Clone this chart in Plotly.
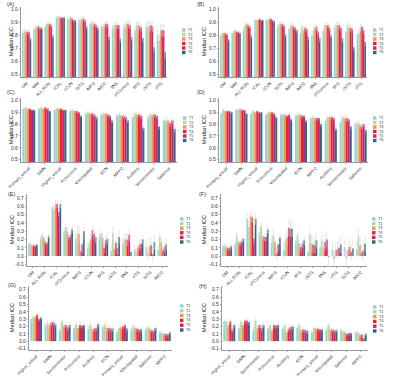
import plotly.graph_objects as go

series = ["T1", "T2", "T3", "T4", "T5", "T6"]
colors = ["#9DCBE3", "#A9DCA2", "#FB8D5F", "#E0282B", "#CE1F7F", "#2E6B78"]

roi_ab = ["GM", "WM", "ALL ROIs", "rCAL", "rCUN", "lSTG", "lMFG", "lMCC", "lINS",
          "rPCuneus", "lIFG", "rSTG", "rITG"]
net_cd = ["Primary_visual", "DMN", "Higher_visual", "Precuneus", "Visuospatial",
          "ECN", "MPFC", "Auditory", "Sensorimotor", "Salience"]
roi_ef = ["GM", "ALL ROIs", "rCAL", "rPCuneus", "lMFG", "rCUN", "lIFG", "rSTG",
          "lINS", "rITG", "lSTG", "lMCC"]
net_gh = ["Higher_visual", "DMN", "Sensorimotor", "Precuneus", "Auditory", "ECN",
          "Primary_visual", "Visuospatial", "Salience", "MPFC"]

# rows = categories, columns = T1..T6
A_vals = [[0.82, 0.84, 0.83, 0.83, 0.83, 0.78], [0.85, 0.86, 0.87, 0.87, 0.86, 0.86],
          [0.87, 0.89, 0.89, 0.89, 0.88, 0.80], [0.94, 0.95, 0.94, 0.94, 0.94, 0.94],
          [0.92, 0.93, 0.94, 0.93, 0.92, 0.92], [0.92, 0.92, 0.93, 0.93, 0.92, 0.87],
          [0.89, 0.90, 0.89, 0.89, 0.88, 0.86], [0.87, 0.87, 0.88, 0.89, 0.89, 0.79],
          [0.86, 0.88, 0.88, 0.88, 0.88, 0.78], [0.86, 0.88, 0.89, 0.89, 0.88, 0.79],
          [0.84, 0.88, 0.88, 0.87, 0.86, 0.78], [0.87, 0.87, 0.87, 0.88, 0.87, 0.71],
          [0.81, 0.76, 0.84, 0.84, 0.84, 0.67]]
A_err = [0.02, 0.015, 0.02, 0.01, 0.015, 0.02, 0.02, 0.025, 0.03, 0.03, 0.03, 0.04, 0.05]

B_vals = [[0.80, 0.82, 0.82, 0.82, 0.81, 0.77], [0.82, 0.83, 0.84, 0.83, 0.83, 0.82],
          [0.85, 0.88, 0.89, 0.88, 0.87, 0.80], [0.92, 0.92, 0.92, 0.93, 0.92, 0.92],
          [0.92, 0.92, 0.93, 0.93, 0.92, 0.91], [0.87, 0.89, 0.89, 0.89, 0.88, 0.81],
          [0.85, 0.88, 0.88, 0.87, 0.86, 0.84], [0.82, 0.87, 0.84, 0.86, 0.85, 0.79],
          [0.80, 0.84, 0.86, 0.87, 0.83, 0.78], [0.84, 0.88, 0.88, 0.88, 0.86, 0.80],
          [0.86, 0.88, 0.88, 0.88, 0.86, 0.78], [0.83, 0.88, 0.86, 0.86, 0.85, 0.71],
          [0.81, 0.82, 0.86, 0.87, 0.84, 0.75]]
B_err = [0.015, 0.01, 0.02, 0.01, 0.01, 0.02, 0.02, 0.03, 0.03, 0.02, 0.03, 0.03, 0.03]

C_vals = [[0.93, 0.94, 0.93, 0.93, 0.92, 0.92], [0.93, 0.94, 0.93, 0.94, 0.93, 0.91],
          [0.92, 0.93, 0.93, 0.93, 0.92, 0.92], [0.91, 0.92, 0.91, 0.91, 0.90, 0.87],
          [0.89, 0.90, 0.89, 0.89, 0.88, 0.86], [0.88, 0.89, 0.89, 0.88, 0.87, 0.83],
          [0.87, 0.88, 0.87, 0.87, 0.86, 0.83], [0.86, 0.89, 0.88, 0.88, 0.87, 0.77],
          [0.86, 0.88, 0.88, 0.88, 0.87, 0.78], [0.83, 0.83, 0.83, 0.81, 0.83, 0.76]]
C_err = [0.01, 0.01, 0.01, 0.015, 0.02, 0.02, 0.02, 0.025, 0.025, 0.03]

D_vals = [[0.89, 0.92, 0.91, 0.91, 0.91, 0.90], [0.92, 0.92, 0.93, 0.92, 0.92, 0.89],
          [0.89, 0.91, 0.90, 0.91, 0.90, 0.90], [0.88, 0.90, 0.90, 0.90, 0.89, 0.86],
          [0.88, 0.88, 0.88, 0.87, 0.88, 0.84], [0.87, 0.88, 0.88, 0.87, 0.87, 0.83],
          [0.85, 0.86, 0.85, 0.85, 0.85, 0.80], [0.83, 0.86, 0.86, 0.86, 0.85, 0.76],
          [0.82, 0.86, 0.85, 0.85, 0.84, 0.78], [0.80, 0.81, 0.80, 0.78, 0.80, 0.75]]
D_err = [0.01, 0.01, 0.01, 0.015, 0.015, 0.02, 0.02, 0.02, 0.025, 0.025]

E_vals = [[0.15, 0.15, 0.13, 0.13, 0.13, 0.14], [0.21, 0.26, 0.22, 0.17, 0.16, 0.24],
          [0.59, 0.56, 0.63, 0.63, 0.53, 0.63], [0.30, 0.35, 0.30, 0.23, 0.26, 0.32],
          [0.21, 0.27, 0.27, 0.06, 0.14, 0.30], [0.09, 0.16, 0.20, 0.31, 0.27, 0.23],
          [0.23, 0.27, 0.22, 0.10, 0.19, 0.21], [0.06, 0.28, 0.09, 0.16, 0.10, 0.23],
          [0.15, 0.20, 0.20, 0.20, 0.26, 0.05], [0.08, 0.06, 0.10, 0.13, 0.15, 0.20],
          [0.11, 0.04, 0.11, 0.13, 0.02, 0.17], [0.07, 0.23, 0.17, 0.07, 0.11, 0.14]]
E_err = [0.02, 0.03, 0.05, 0.04, 0.1, 0.07, 0.06, 0.08, 0.08, 0.06, 0.1, 0.07]

F_vals = [[0.12, 0.13, 0.11, 0.10, 0.10, 0.12], [0.15, 0.25, 0.17, 0.16, 0.18, 0.21],
          [0.45, 0.35, 0.48, 0.47, 0.21, 0.45], [0.29, 0.36, 0.24, 0.23, 0.23, 0.32],
          [0.16, 0.25, 0.17, 0.03, 0.14, 0.22], [0.07, 0.18, 0.22, 0.34, 0.33, 0.33],
          [0.18, 0.25, 0.15, 0.11, 0.15, 0.19], [0.05, 0.26, 0.15, 0.14, 0.13, 0.19],
          [0.11, 0.18, 0.10, 0.17, 0.20, -0.01], [0.08, -0.04, 0.07, 0.08, 0.10, 0.14],
          [0.11, -0.02, 0.07, 0.11, 0.05, 0.09], [0.08, 0.24, 0.13, 0.04, 0.07, 0.15]]
F_err = [0.03, 0.04, 0.07, 0.05, 0.08, 0.1, 0.06, 0.1, 0.1, 0.1, 0.1, 0.1]

G_vals = [[0.30, 0.33, 0.33, 0.36, 0.30, 0.32], [0.22, 0.25, 0.22, 0.25, 0.26, 0.23],
          [0.15, 0.27, 0.21, 0.22, 0.19, 0.22], [0.18, 0.23, 0.18, 0.22, 0.21, 0.22],
          [0.17, 0.22, 0.16, 0.17, 0.18, 0.23], [0.19, 0.22, 0.18, 0.18, 0.17, 0.17],
          [0.13, 0.18, 0.19, 0.20, 0.22, 0.17], [0.16, 0.20, 0.18, 0.17, 0.16, 0.16],
          [0.16, 0.19, 0.17, 0.15, 0.14, 0.18], [0.12, 0.11, 0.10, 0.10, 0.09, 0.12]]
G_err = [0.03, 0.04, 0.04, 0.04, 0.04, 0.04, 0.04, 0.04, 0.03, 0.03]

H_vals = [[0.27, 0.27, 0.22, 0.27, 0.16, 0.22], [0.18, 0.26, 0.22, 0.28, 0.28, 0.26],
          [0.16, 0.28, 0.18, 0.22, 0.18, 0.22], [0.18, 0.22, 0.15, 0.22, 0.21, 0.22],
          [0.17, 0.21, 0.12, 0.17, 0.19, 0.20], [0.18, 0.22, 0.15, 0.16, 0.15, 0.14],
          [0.12, 0.18, 0.17, 0.17, 0.16, 0.16], [0.16, 0.22, 0.16, 0.16, 0.14, 0.15],
          [0.15, 0.13, 0.12, 0.10, 0.11, 0.11], [0.12, 0.12, 0.09, 0.09, 0.04, 0.10]]
H_err = [0.04, 0.04, 0.04, 0.04, 0.04, 0.04, 0.03, 0.03, 0.03, 0.03]

W, H = 400, 378
FONT = "Liberation Sans"


def fx(x):
    return x / W


def fy(y):
    return 1 - y / H


hi_t = [0.5, 0.6, 0.7, 0.8, 0.9, 1.0]
lo_t = [-0.1, 0.0, 0.1, 0.2, 0.3, 0.4, 0.5, 0.6, 0.7]

panels = [
    dict(k="A", cats=roi_ab, vals=A_vals, err=A_err, x=(21, 167), y=(7, 77), yr=[0.48, 1.02], t=hi_t,
         leg=(182, 30, 4.5), lab=(11, 4), yt=(11, 42)),
    dict(k="B", cats=roi_ab, vals=B_vals, err=B_err, x=(219, 367), y=(7, 77), yr=[0.48, 1.02], t=hi_t,
         leg=(373, 30, 4.5), lab=(201, 4), yt=(204, 42)),
    dict(k="C", cats=net_cd, vals=C_vals, err=C_err, x=(21, 177), y=(98, 162), yr=[0.48, 1.02], t=hi_t,
         leg=(183, 118, 4.5), lab=(11, 92), yt=(11, 130)),
    dict(k="D", cats=net_cd, vals=D_vals, err=D_err, x=(219, 368), y=(98, 162), yr=[0.48, 1.02], t=hi_t,
         leg=(373, 118, 4.5), lab=(201, 92), yt=(204, 130)),
    dict(k="E", cats=roi_ef, vals=E_vals, err=E_err, x=(27, 168), y=(194, 266), yr=[-0.12, 0.75], t=lo_t,
         leg=(180, 219, 4.6), lab=(12, 194), yt=(12, 230)),
    dict(k="F", cats=roi_ef, vals=F_vals, err=F_err, x=(221, 367), y=(194, 266), yr=[-0.12, 0.75], t=lo_t,
         leg=(372, 219, 4.6), lab=(203, 194), yt=(204, 230)),
    dict(k="G", cats=net_gh, vals=G_vals, err=G_err, x=(29, 172), y=(286, 350), yr=[-0.12, 0.75], t=lo_t,
         leg=(180, 306, 4.8), lab=(12, 285), yt=(12, 318)),
    dict(k="H", cats=net_gh, vals=H_vals, err=H_err, x=(222, 368), y=(286, 350), yr=[-0.12, 0.75], t=lo_t,
         leg=(373, 307, 4.8), lab=(203, 286), yt=(204, 318)),
]

fig = go.Figure()
annotations = []
shapes = []
layout = dict(
    width=W, height=H, margin=dict(l=0, r=0, t=0, b=0),
    paper_bgcolor="white", plot_bgcolor="white",
    barmode="group", bargap=0.18, bargroupgap=0.0,
    showlegend=False, font=dict(family=FONT, size=5, color="#333"),
)

for i, p in enumerate(panels):
    n = "" if i == 0 else str(i + 1)
    xa, ya = "x" + n, "y" + n
    for j, s in enumerate(series):
        fig.add_trace(go.Bar(
            x=p["cats"], y=[row[j] for row in p["vals"]], name=s,
            marker=dict(color=colors[j], line=dict(width=0)),
            error_y=dict(type="data", array=p["err"], color="#d6d6d6", thickness=0.6, width=0),
            xaxis=xa, yaxis=ya, showlegend=False,
        ))
    layout["xaxis" + n] = dict(
        domain=[fx(p["x"][0]), fx(p["x"][1])], anchor=ya, type="category",
        showline=True, linecolor="#555", linewidth=0.6, ticks="outside", ticklen=1.5,
        tickcolor="#555", tickwidth=0.5, tickangle=-45, tickfont=dict(size=4.3, color="#333"),
        showgrid=False, zeroline=False, automargin=False,
    )
    layout["yaxis" + n] = dict(
        domain=[fy(p["y"][1]), fy(p["y"][0])], anchor=xa, range=p["yr"],
        tickvals=p["t"], ticktext=["%.1f" % v for v in p["t"]],
        showline=True, linecolor="#555", linewidth=0.6, ticks="outside", ticklen=1.5,
        tickcolor="#555", tickwidth=0.5, tickfont=dict(size=5, color="#333"),
        showgrid=False, zeroline=False, automargin=False,
    )
    annotations.append(dict(text="(%s)" % p["k"], x=fx(p["lab"][0]), y=fy(p["lab"][1]),
                            xref="paper", yref="paper", showarrow=False, borderpad=0,
                            font=dict(size=5.5, color="#333"), xanchor="center", yanchor="middle"))
    annotations.append(dict(text="Median ICC", x=fx(p["yt"][0]), y=fy(p["yt"][1]),
                            xref="paper", yref="paper", showarrow=False, textangle=-90, borderpad=0,
                            font=dict(size=5.5, color="#222"), xanchor="center", yanchor="middle"))
    lx, ly, dy = p["leg"]
    for j, s in enumerate(series):
        yy = ly + j * dy
        shapes.append(dict(type="rect", xref="paper", yref="paper",
                           x0=fx(lx), x1=fx(lx + 3.5), y0=fy(yy + 1.7), y1=fy(yy - 1.7),
                           fillcolor=colors[j], line=dict(width=0)))
        annotations.append(dict(text=s, x=fx(lx + 5), y=fy(yy), xref="paper", yref="paper",
                                showarrow=False, borderpad=0, font=dict(size=3.8, color="#333"),
                                xanchor="left", yanchor="middle"))

layout["annotations"] = annotations
layout["shapes"] = shapes
fig.update_layout(**layout)
fig.write_html("out.html", config={"displayModeBar": False, "staticPlot": True},
               post_script="document.body.style.margin='0';document.body.style.overflow='hidden';")
